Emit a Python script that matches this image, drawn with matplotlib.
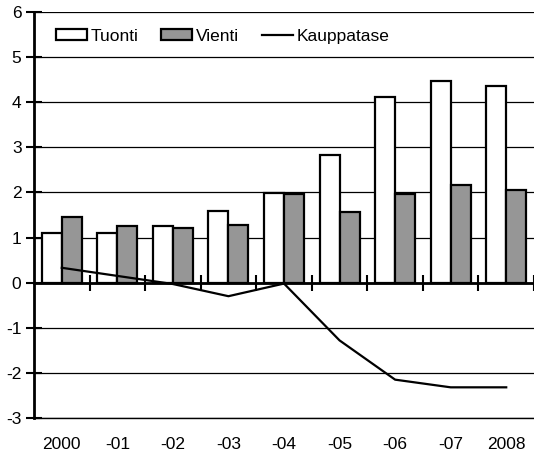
import matplotlib
matplotlib.use("Agg")
import matplotlib.pyplot as plt
import numpy as np

plt.rcParams['font.family'] = ['Liberation Sans', 'DejaVu Sans']

years = ["2000", "-01", "-02", "-03", "-04", "-05", "-06", "-07", "2008"]
tuonti = [1.11, 1.11, 1.26, 1.59, 1.99, 2.82, 4.12, 4.46, 4.37]
vienti = [1.46, 1.26, 1.21, 1.28, 1.96, 1.57, 1.96, 2.17, 2.06]
kauppatase = [0.33, 0.15, -0.03, -0.30, -0.02, -1.28, -2.15, -2.32, -2.32]
yticks = [-3, -2, -1, 0, 1, 2, 3, 4, 5, 6]

fig = plt.figure(figsize=(5.34, 4.53), dpi=100)
ax = fig.add_axes([34/534, 1-418/453, 500/534, (418-12)/453])

x = np.arange(len(years))
w = 0.36
b1 = ax.bar(x - w/2, tuonti, w, color='white', edgecolor='black', linewidth=1.6, zorder=3, label='Tuonti')
b2 = ax.bar(x + w/2, vienti, w, color='#969696', edgecolor='black', linewidth=1.6, zorder=3, label='Vienti')
l1, = ax.plot(x, kauppatase, color='black', linewidth=1.6, zorder=4, label='Kauppatase')

ax.set_xlim(-0.5, len(years) - 0.5)
ax.set_ylim(-3, 6)
ax.set_yticks(yticks)
ax.set_yticklabels([str(v) for v in yticks], fontsize=12.5)
ax.tick_params(axis='y', direction='inout', length=12, width=1.5, pad=3)
ax.set_xticks(x)
ax.set_xticklabels(years, fontsize=12.5)
ax.tick_params(axis='x', length=0, pad=14)

ax.yaxis.grid(True, color='black', linewidth=0.9, zorder=0)
ax.set_axisbelow(True)
for s in ['top', 'right']:
    ax.spines[s].set_visible(False)
ax.spines['left'].set_linewidth(2)
ax.spines['bottom'].set_linewidth(1.0)

sec = ax.secondary_xaxis(0, transform=ax.transData)
sec.set_xticks(np.arange(0.5, len(years) - 0.5 + 1, 1.0))
sec.set_xticklabels([])
sec.tick_params(direction='inout', length=12, width=1.5)
sec.spines['bottom'].set_linewidth(2)

leg = ax.legend([b1, b2, l1], ['Tuonti', 'Vienti', 'Kauppatase'],
                loc='upper left', bbox_to_anchor=(0.03, 0.975), ncol=3, frameon=False,
                fontsize=12.5, handlelength=1.8, handleheight=0.6, handletextpad=0.2,
                columnspacing=1.3, borderaxespad=0)

fig.savefig("out.png", dpi=100)
